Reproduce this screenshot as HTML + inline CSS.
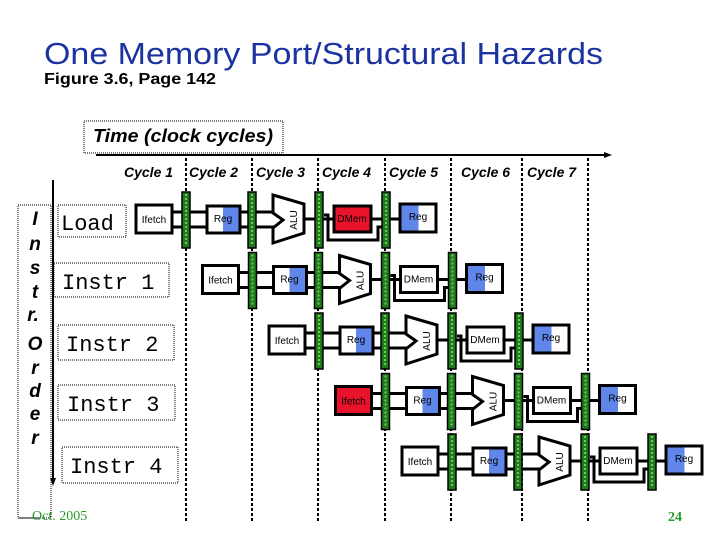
<!DOCTYPE html>
<html><head><meta charset="utf-8"><style>
html,body{margin:0;padding:0;background:#fff;}
svg{display:block;}
</style></head><body>
<svg width="720" height="540" viewBox="0 0 720 540" xmlns="http://www.w3.org/2000/svg">
<defs>
<g id="latch">
<rect x="0" y="0" width="8" height="56" fill="#1f7a1f" stroke="#000" stroke-width="1.5"/>
<line x1="4" y1="2" x2="4" y2="54" stroke="#6fcf4f" stroke-width="2" stroke-dasharray="2,2"/>
</g>
<g id="row">
<!-- connectors -->
<line x1="172" y1="212" x2="207" y2="212" stroke="#000" stroke-width="3"/>
<line x1="172" y1="227" x2="207" y2="227" stroke="#000" stroke-width="3"/>
<line x1="240" y1="212" x2="275" y2="212" stroke="#000" stroke-width="3"/>
<line x1="240" y1="227" x2="275" y2="227" stroke="#000" stroke-width="3"/>
<line x1="304" y1="219" x2="334" y2="219" stroke="#000" stroke-width="3"/>
<line x1="371" y1="219" x2="400" y2="219" stroke="#000" stroke-width="3"/>
<polyline points="324,215 328,215 328,240 378,240 378,227 384,227" fill="none" stroke="#000" stroke-width="3"/>
<!-- Ifetch -->
<rect x="136" y="205" width="36" height="28" fill="#fff" stroke="#000" stroke-width="3"/>
<text x="154" y="223" font-family="Liberation Sans, sans-serif" font-size="10" text-anchor="middle">Ifetch</text>
<use href="#latch" x="182" y="192"/>
<!-- Reg -->
<rect x="207" y="206" width="33" height="27" fill="#fff" stroke="#000" stroke-width="3"/>
<rect x="223" y="207.5" width="15.5" height="24" fill="#5f86e8"/>
<text x="223" y="222" font-family="Liberation Sans, sans-serif" font-size="10" text-anchor="middle">Reg</text>
<use href="#latch" x="248" y="192"/>
<!-- ALU -->
<polygon points="273,195 304,204 304,233 273,243 273,228 283,220 273,213" fill="#fff" stroke="#000" stroke-width="3"/>
<text transform="translate(297,220) rotate(-90)" font-family="Liberation Sans, sans-serif" font-size="10" text-anchor="middle">ALU</text>
<use href="#latch" x="315" y="192"/>
<!-- DMem -->
<rect class="dm" x="334" y="206" width="37" height="26" fill="#fff" stroke="#000" stroke-width="3"/>
<text x="352" y="222" font-family="Liberation Sans, sans-serif" font-size="10" text-anchor="middle">DMem</text>
<use href="#latch" x="382" y="192"/>
<!-- Reg WB -->
<rect x="400" y="204" width="36" height="28" fill="#fff" stroke="#000" stroke-width="3"/>
<rect x="401.5" y="205.5" width="17" height="25" fill="#5f86e8"/>
<text x="418" y="220" font-family="Liberation Sans, sans-serif" font-size="10" text-anchor="middle">Reg</text>
</g>
</defs>

<!-- Title -->
<text x="44" y="64" font-family="Liberation Sans, sans-serif" font-size="31" fill="#1a33a0" textLength="559" lengthAdjust="spacingAndGlyphs">One Memory Port/Structural Hazards</text>
<text x="44" y="84" font-family="Liberation Sans, sans-serif" font-size="16" font-weight="bold" textLength="172" lengthAdjust="spacingAndGlyphs">Figure 3.6, Page 142</text>

<!-- Time box -->
<rect x="84" y="121" width="199" height="32" fill="#fff" stroke="#000" stroke-width="1" stroke-dasharray="1,1"/>
<text x="93" y="142" font-family="Liberation Sans, sans-serif" font-size="18" font-style="italic" font-weight="bold" textLength="180" lengthAdjust="spacingAndGlyphs">Time (clock cycles)</text>
<line x1="96" y1="155" x2="608" y2="155" stroke="#000" stroke-width="2"/>
<polygon points="612,155 604,152 604,158" fill="#000"/>

<!-- Cycle labels -->
<g font-family="Liberation Sans, sans-serif" font-size="14" font-weight="bold" font-style="italic">
<text x="124" y="177">Cycle 1</text>
<text x="189" y="177">Cycle 2</text>
<text x="256" y="177">Cycle 3</text>
<text x="322" y="177">Cycle 4</text>
<text x="389" y="177">Cycle 5</text>
<text x="461" y="177">Cycle 6</text>
<text x="527" y="177">Cycle 7</text>
</g>

<!-- dotted vertical lines -->
<g stroke="#000" stroke-width="2" stroke-dasharray="3,2">
<line x1="186" y1="158" x2="186" y2="522"/>
<line x1="252" y1="158" x2="252" y2="522"/>
<line x1="318" y1="158" x2="318" y2="522"/>
<line x1="385" y1="158" x2="385" y2="522"/>
<line x1="451" y1="158" x2="451" y2="522"/>
<line x1="522" y1="158" x2="522" y2="522"/>
<line x1="588" y1="158" x2="588" y2="522"/>
</g>

<!-- Left order box -->
<rect x="18" y="205" width="33" height="313" fill="#fff" stroke="#000" stroke-width="1" stroke-dasharray="1,1"/>
<line x1="18" y1="518" x2="40" y2="518" stroke="#000" stroke-width="1"/>
<line x1="53" y1="180" x2="53" y2="480" stroke="#000" stroke-width="2"/>
<polygon points="53,486 50,478 56,478" fill="#000"/>
<g font-family="Liberation Sans, sans-serif" font-size="19" font-weight="bold" font-style="italic" text-anchor="middle">
<text x="35" y="225">I</text>
<text x="35" y="250">n</text>
<text x="35" y="274">s</text>
<text x="35" y="298">t</text>
<text x="33" y="321">r.</text>
<text x="35" y="350">O</text>
<text x="35" y="374">r</text>
<text x="35" y="397">d</text>
<text x="35" y="420">e</text>
<text x="35" y="444">r</text>
</g>

<!-- instruction labels -->
<g font-family="Liberation Mono, monospace" font-size="22" fill="#000">
<rect x="58" y="205" width="68" height="32" fill="#fff" stroke="#000" stroke-width="1" stroke-dasharray="1,1"/>
<text x="61" y="230">Load</text>
<rect x="54" y="263" width="115" height="34" fill="#fff" stroke="#000" stroke-width="1" stroke-dasharray="1,1"/>
<text x="62" y="289">Instr 1</text>
<rect x="58" y="325" width="116" height="35" fill="#fff" stroke="#000" stroke-width="1" stroke-dasharray="1,1"/>
<text x="66" y="351">Instr 2</text>
<rect x="58" y="385" width="117" height="35" fill="#fff" stroke="#000" stroke-width="1" stroke-dasharray="1,1"/>
<text x="67" y="411">Instr 3</text>
<rect x="62" y="447" width="116" height="36" fill="#fff" stroke="#000" stroke-width="1" stroke-dasharray="1,1"/>
<text x="70" y="473">Instr 4</text>
</g>

<!-- pipeline rows -->
<use href="#row" x="0" y="0"/>
<rect x="334" y="206" width="37" height="26" fill="#e8132a" stroke="#000" stroke-width="3"/>
<text x="352" y="222" font-family="Liberation Sans, sans-serif" font-size="10" text-anchor="middle">DMem</text>
<use href="#row" transform="translate(66.5,60.5)"/>
<use href="#row" transform="translate(133,121)"/>
<use href="#row" transform="translate(199.5,181.5)"/>
<rect x="335.5" y="386.5" width="36" height="28" fill="#e8132a" stroke="#000" stroke-width="3"/>
<text x="353.5" y="404.5" font-family="Liberation Sans, sans-serif" font-size="10" text-anchor="middle">Ifetch</text>
<use href="#row" transform="translate(266,242)"/>

<!-- footer -->
<text x="32" y="520" font-family="Liberation Serif, serif" font-size="14" fill="#2a9a2a">Oct. 2005</text>
<text x="668" y="521" font-family="Liberation Serif, serif" font-size="14" font-weight="bold" fill="#2a9a2a">24</text>
</svg>
</body></html>
